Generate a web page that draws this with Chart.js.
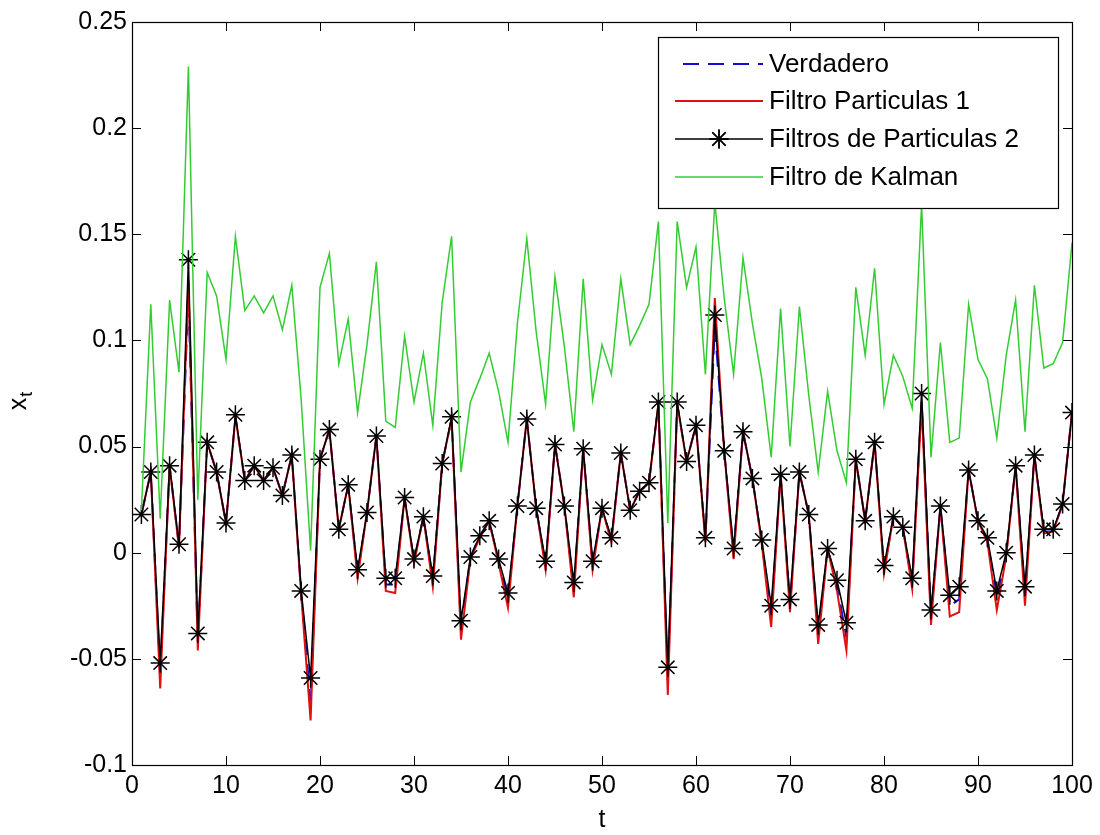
<!DOCTYPE html>
<html><head><meta charset="utf-8">
<script src="https://cdn.jsdelivr.net/npm/chart.js@4.4.0/dist/chart.umd.min.js"></script>
<style>html,body{margin:0;padding:0;background:#fff;}#wrap{width:1100px;height:835px;position:relative;}</style>
</head><body><div id="wrap"><canvas id="c" width="1100" height="835"></canvas></div>
<script>
const tValues = [1,2,3,4,5,6,7,8,9,10,11,12,13,14,15,16,17,18,19,20,21,22,23,24,25,26,27,28,29,30,31,32,33,34,35,36,37,38,39,40,41,42,43,44,45,46,47,48,49,50,51,52,53,54,55,56,57,58,59,60,61,62,63,64,65,66,67,68,69,70,71,72,73,74,75,76,77,78,79,80,81,82,83,84,85,86,87,88,89,90,91,92,93,94,95,96,97,98,99,100];

const verdadero = [0.018,0.038,-0.058,0.041,0.003,0.122,-0.042,0.052,0.038,0.014,0.064,0.034,0.041,0.034,0.040,0.027,0.046,-0.019,-0.070,0.044,0.058,0.011,0.032,-0.010,0.019,0.055,-0.015,-0.015,0.026,-0.004,0.017,-0.013,0.042,0.063,-0.036,-0.002,0.008,0.015,-0.004,-0.022,0.022,0.063,0.021,-0.006,0.051,0.022,-0.017,0.049,-0.006,0.021,0.006,0.047,0.020,0.029,0.033,0.070,-0.060,0.070,0.043,0.060,0.006,0.106,0.048,0.000,0.057,0.035,0.005,-0.030,0.037,-0.025,0.038,0.018,-0.038,0.002,-0.015,-0.040,0.044,0.015,0.052,-0.008,0.017,0.012,-0.015,0.072,-0.030,0.022,-0.025,-0.022,0.039,0.015,0.006,-0.022,-0.001,0.041,-0.020,0.046,0.010,0.010,0.023,0.066];

const filtroParticulas1 = [0.018,0.038,-0.064,0.041,0.002,0.128,-0.046,0.052,0.038,0.014,0.064,0.034,0.041,0.034,0.040,0.027,0.046,-0.020,-0.079,0.044,0.058,0.011,0.032,-0.012,0.019,0.055,-0.018,-0.019,0.026,-0.005,0.017,-0.016,0.042,0.063,-0.041,-0.003,0.007,0.015,-0.005,-0.026,0.022,0.063,0.021,-0.008,0.051,0.022,-0.021,0.049,-0.008,0.021,0.005,0.047,0.020,0.029,0.033,0.070,-0.067,0.070,0.043,0.060,0.005,0.120,0.048,-0.003,0.057,0.035,0.004,-0.035,0.037,-0.028,0.038,0.018,-0.043,0.002,-0.018,-0.046,0.044,0.015,0.052,-0.010,0.017,0.012,-0.017,0.070,-0.034,0.022,-0.030,-0.028,0.039,0.015,0.005,-0.027,-0.002,0.041,-0.025,0.046,0.009,0.010,0.023,0.066];

const filtrosParticulas2 = [0.018,0.038,-0.052,0.041,0.004,0.138,-0.038,0.052,0.038,0.014,0.065,0.034,0.041,0.034,0.040,0.027,0.046,-0.018,-0.059,0.044,0.058,0.011,0.032,-0.008,0.019,0.055,-0.012,-0.012,0.026,-0.003,0.017,-0.011,0.042,0.064,-0.032,-0.002,0.008,0.015,-0.003,-0.019,0.022,0.063,0.021,-0.004,0.051,0.022,-0.014,0.049,-0.004,0.021,0.007,0.047,0.020,0.029,0.033,0.071,-0.054,0.071,0.043,0.060,0.007,0.112,0.048,0.002,0.057,0.035,0.006,-0.025,0.037,-0.022,0.038,0.018,-0.034,0.002,-0.013,-0.033,0.044,0.015,0.052,-0.006,0.017,0.012,-0.012,0.075,-0.027,0.022,-0.020,-0.016,0.039,0.015,0.007,-0.018,0.000,0.041,-0.016,0.046,0.011,0.011,0.023,0.066];

const filtroKalman = [0.020,0.117,0.016,0.119,0.085,0.229,0.025,0.132,0.121,0.091,0.149,0.114,0.121,0.113,0.121,0.105,0.126,0.072,0.001,0.125,0.141,0.089,0.110,0.066,0.098,0.137,0.062,0.059,0.102,0.071,0.094,0.060,0.118,0.149,0.038,0.071,0.082,0.094,0.076,0.052,0.108,0.148,0.104,0.070,0.130,0.097,0.057,0.129,0.072,0.098,0.084,0.129,0.098,0.107,0.117,0.156,0.014,0.156,0.125,0.144,0.084,0.165,0.120,0.084,0.139,0.108,0.082,0.045,0.115,0.050,0.116,0.074,0.038,0.076,0.048,0.033,0.125,0.093,0.134,0.070,0.093,0.083,0.068,0.164,0.045,0.099,0.052,0.054,0.117,0.091,0.082,0.054,0.093,0.119,0.057,0.126,0.087,0.089,0.099,0.146];

const xTicks = [0,10,20,30,40,50,60,70,80,90,100];
const yTicks = [-0.1,-0.05,0,0.05,0.1,0.15,0.2,0.25];
const seriesNames = ['Verdadero','Filtro Particulas 1','Filtros de Particulas 2','Filtro de Kalman'];
const xTitle = 't';
const yTitleMain = 'x';
const yTitleSub = 't';

const FONT = '"Liberation Sans", Arial, sans-serif';
const COLORS = {blue:'#1010d8', red:'#e01010', black:'#000000', green:'#33cc33'};

function pts(arr){ return arr.map((v,i)=>({x:tValues[i], y:v})); }

const frameTicks = {
  id:'frameTicks',
  afterDatasetsDraw(chart){
    const ctx = chart.ctx, a = chart.chartArea;
    const xs = chart.scales.x, ys = chart.scales.y;
    ctx.save();
    ctx.strokeStyle = '#000'; ctx.lineWidth = 1;
    const L = 9;
    ctx.beginPath();
    xTicks.forEach(v=>{
      const px = Math.round(xs.getPixelForValue(v))+0.5;
      ctx.moveTo(px,a.bottom); ctx.lineTo(px,a.bottom-L);
      ctx.moveTo(px,a.top); ctx.lineTo(px,a.top+L);
    });
    yTicks.forEach(v=>{
      const py = Math.round(ys.getPixelForValue(v))+0.5;
      ctx.moveTo(a.left,py); ctx.lineTo(a.left+L,py);
      ctx.moveTo(a.right,py); ctx.lineTo(a.right-L,py);
    });
    ctx.stroke();
    ctx.lineWidth = 1.2;
    ctx.strokeRect(Math.round(a.left)+0.5, Math.round(a.top)+0.5, Math.round(a.right-a.left), Math.round(a.bottom-a.top));
    ctx.restore();
  },
  afterDraw(chart){
    const ctx = chart.ctx, a = chart.chartArea;
    ctx.save();
    ctx.fillStyle = '#000';
    ctx.font = '25px ' + FONT;
    ctx.textAlign = 'center'; ctx.textBaseline = 'middle';
    ctx.fillText(xTitle, (a.left+a.right)/2, 820);
    ctx.translate(18, 400);
    ctx.rotate(-Math.PI/2);
    ctx.textAlign = 'left'; ctx.textBaseline = 'alphabetic';
    const w = ctx.measureText(yTitleMain).width;
    ctx.fillText(yTitleMain, -w/2-4, 8);
    ctx.font = '18px ' + FONT;
    ctx.fillText(yTitleSub, w/2-3, 14);
    ctx.restore();

    ctx.save();
    const bx = 658.5, by = 37.5, bw = 400, bh = 171;
    ctx.fillStyle = '#fff';
    ctx.fillRect(bx, by, bw, bh);
    ctx.strokeStyle = '#000'; ctx.lineWidth = 1.2;
    ctx.strokeRect(bx, by, bw, bh);
    const rows = [64, 101, 139, 177];
    const styles = [
      {c:COLORS.blue, dash:[16,9], w:2},
      {c:COLORS.red, dash:[], w:2},
      {c:COLORS.black, dash:[], w:1.5, star:true},
      {c:COLORS.green, dash:[], w:1.5}
    ];
    const x0 = 675, x1 = 763;
    rows.forEach((y,i)=>{
      const s = styles[i];
      ctx.strokeStyle = s.c; ctx.lineWidth = s.w; ctx.setLineDash(s.dash);
      ctx.beginPath(); ctx.moveTo(x0+ (i===0?8:0), y); ctx.lineTo(x1, y); ctx.stroke();
      ctx.setLineDash([]);
      if (s.star) {
        Chart.helpers.drawPoint(ctx, {pointStyle:'star', radius:9.5, rotation:0, borderWidth:1.5}, (x0+x1)/2, y);
        ctx.stroke();
      }
      ctx.fillStyle = '#000';
      ctx.font = '26px ' + FONT;
      ctx.textAlign = 'left'; ctx.textBaseline = 'middle';
      ctx.fillText(seriesNames[i], 769, y+1);
    });
    ctx.restore();
  }
};

new Chart(document.getElementById('c'), {
  type:'line',
  data:{
    datasets:[
      {label:seriesNames[0], data:pts(verdadero), borderColor:COLORS.blue, borderWidth:2, borderDash:[16,9], pointRadius:0, fill:false, tension:0, order:4},
      {label:seriesNames[1], data:pts(filtroParticulas1), borderColor:COLORS.red, borderWidth:2, pointRadius:0, fill:false, tension:0, order:3},
      {label:seriesNames[2], data:pts(filtrosParticulas2), borderColor:COLORS.black, borderWidth:1.5, pointStyle:'star', pointRadius:9.5, pointBorderWidth:1.5, pointBorderColor:'#000', pointBackgroundColor:'#000', fill:false, tension:0, order:2},
      {label:seriesNames[3], data:pts(filtroKalman), borderColor:COLORS.green, borderWidth:1.5, pointRadius:0, fill:false, tension:0, order:1}
    ]
  },
  options:{
    responsive:false, animation:false, devicePixelRatio:1, events:[],
    layout:{padding:{left:0, right:28, top:22, bottom:0}},
    plugins:{legend:{display:false}, tooltip:{enabled:false}},
    scales:{
      x:{type:'linear', min:0, max:100,
        afterBuildTicks:s=>{ s.ticks = xTicks.map(v=>({value:v})); },
        afterFit:s=>{ s.height = 70; },
        grid:{display:false, drawTicks:false}, border:{display:false},
        ticks:{color:'#000', font:{family:FONT, size:25}, padding:6, maxRotation:0, autoSkip:false,
          callback:v=>String(v)}
      },
      y:{type:'linear', min:-0.1, max:0.25,
        afterBuildTicks:s=>{ s.ticks = yTicks.map(v=>({value:v})); },
        afterFit:s=>{ s.width = 132; },
        grid:{display:false, drawTicks:false}, border:{display:false},
        ticks:{color:'#000', font:{family:FONT, size:25}, padding:5, autoSkip:false,
          callback:v=>String(Math.round(v*100)/100)}
      }
    }
  },
  plugins:[frameTicks]
});
</script></body></html>
